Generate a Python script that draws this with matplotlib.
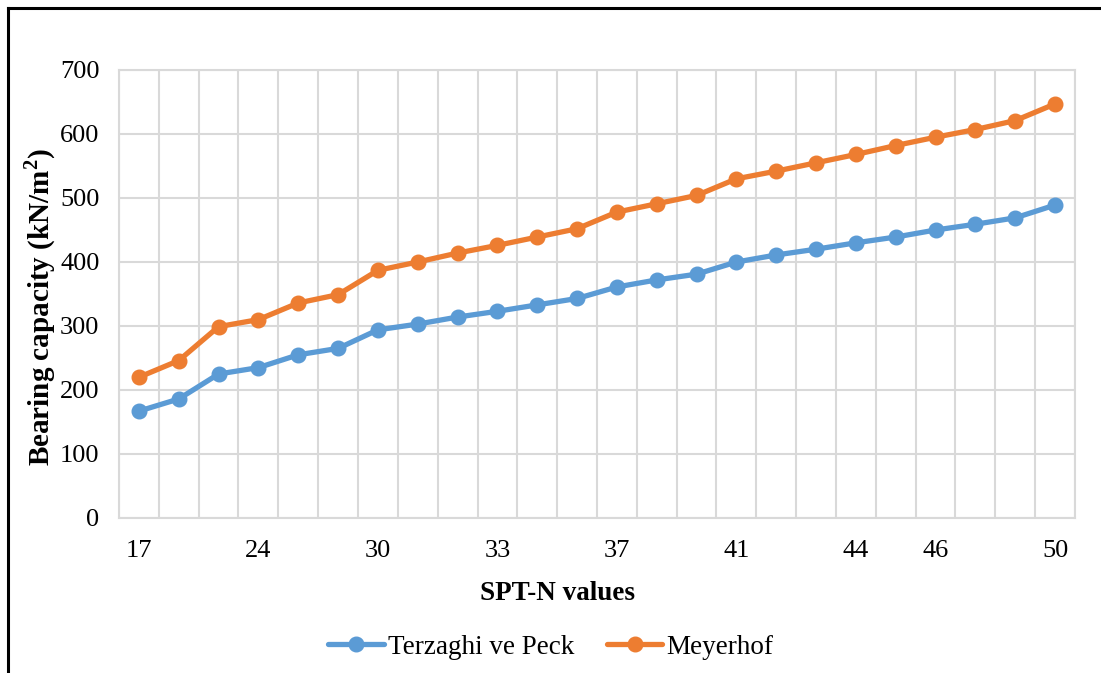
import matplotlib
matplotlib.use("Agg")
import matplotlib.pyplot as plt
from matplotlib.lines import Line2D

plt.rcParams['font.family'] = ['Liberation Serif', 'DejaVu Serif']

# Data
terzaghi = [167, 186, 225, 235, 255, 265, 294, 303, 314, 323, 333, 343,
            361, 372, 381, 400, 411, 420, 430, 439, 450, 459, 469, 489]
meyerhof = [220, 246, 299, 310, 336, 349, 387, 400, 414, 426, 439, 452,
            478, 491, 504, 530, 542, 555, 568, 582, 595, 607, 621, 647]
tick_positions = [0, 3, 6, 9, 12, 15, 18, 20, 23]
tick_labels = ['17', '24', '30', '33', '37', '41', '44', '46', '50']
y_ticks = [0, 100, 200, 300, 400, 500, 600, 700]

blue = '#5B9BD5'
orange = '#ED7D31'
grid_c = '#D9D9D9'

fig = plt.figure(figsize=(11.01, 6.73), dpi=100)
ax = fig.add_axes([119/1101, (673-518)/673, (1075-119)/1101, (518-70)/673])

x = list(range(len(terzaghi)))
ax.plot(x, terzaghi, color=blue, lw=3.8, marker='o', ms=10.5, label='Terzaghi ve Peck',
        solid_capstyle='round', zorder=3)
ax.plot(x, meyerhof, color=orange, lw=3.8, marker='o', ms=10.5, label='Meyerhof',
        solid_capstyle='round', zorder=3)

ax.set_xlim(-0.5, len(terzaghi) - 0.5)
ax.set_ylim(0, 700)
ax.set_yticks(y_ticks)
ax.set_xticks(tick_positions)
ax.set_xticklabels(tick_labels)

# gridlines
for v in y_ticks:
    ax.axhline(v, color=grid_c, lw=1.5, zorder=1)
for k in range(len(terzaghi) + 1):
    ax.axvline(k - 0.5, color=grid_c, lw=1.5, zorder=1)
for s in ax.spines.values():
    s.set_color(grid_c)
    s.set_linewidth(1.5)

ax.tick_params(axis='both', length=0, labelsize=19, colors='#000000')
ax.tick_params(axis='y', pad=14)
ax.tick_params(axis='x', pad=16)

ax.set_ylabel('Bearing capacity (kN/m$^\\mathregular{2}$)', fontsize=21, fontweight='bold')
ax.yaxis.set_label_coords((40 - 119) / 956, 0.47)
ax.set_xlabel('SPT-N values', fontsize=19.5, fontweight='bold')
ax.xaxis.set_label_coords((557 - 119) / 956, -(593 - 518) / 448)
ax.xaxis.label.set_va('center')
ax.yaxis.label.set_va('center')

leg = fig.legend(loc='center', bbox_to_anchor=(551/1101, 1 - 647/673), ncol=2,
                 frameon=False, fontsize=19.5, handlelength=2.05, columnspacing=1.2,
                 handletextpad=0.15)

# outer frame (top and left)
fig.add_artist(Line2D([8/1101, 1.0], [1 - 8/673, 1 - 8/673], transform=fig.transFigure,
                      color='black', lw=2.2))
fig.add_artist(Line2D([8/1101, 8/1101], [0, 1 - 8/673], transform=fig.transFigure,
                      color='black', lw=2.2))

fig.savefig('out.png', dpi=100)
